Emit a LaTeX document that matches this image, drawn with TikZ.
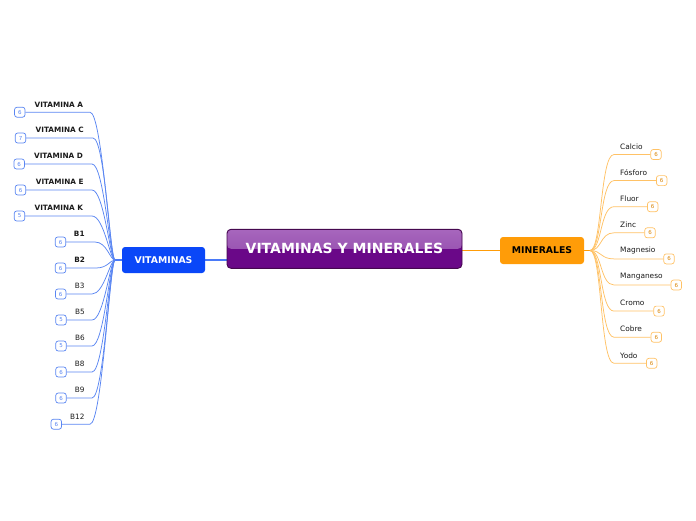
\documentclass[tikz,border=0pt]{standalone}
\usepackage{fontspec}
\setmainfont{DejaVu Sans}
\usetikzlibrary{calc}
\definecolor{vblue}{HTML}{0A47F8}
\definecolor{vconn}{HTML}{4A7AF8}
\definecolor{vline}{HTML}{5A86F2}
\definecolor{morange}{HTML}{FF9C08}
\definecolor{mline}{HTML}{FFC266}
\definecolor{ptop}{HTML}{A766BD}
\definecolor{pmid}{HTML}{8E45A8}
\definecolor{pbot}{HTML}{6A0888}
\definecolor{pborder}{HTML}{45084F}
\definecolor{labtext}{HTML}{1A1A1A}
\tikzset{
  vnum/.style={draw=vline, fill=white, rounded corners=2.5pt, minimum width=10.5pt, minimum height=10pt, inner sep=0pt, line width=0.7pt, text=vline, font=\fontsize{5.5}{5.5}\selectfont},
  mnum/.style={draw=mline, fill=white, rounded corners=2.5pt, minimum width=10.5pt, minimum height=10pt, inner sep=0pt, line width=0.7pt, text=morange!85!black, font=\fontsize{5.5}{5.5}\selectfont},
  vlabb/.style={inner sep=0pt, text=labtext, font=\fontsize{7.3}{8}\selectfont\bfseries},
  vlabn/.style={inner sep=0pt, text=labtext, font=\fontsize{7.3}{8}\selectfont},
  mlab/.style={inner sep=0pt, anchor=west, text=labtext, font=\fontsize{7.4}{8}\selectfont},
  vbranch/.style={draw=vline, line width=0.75pt},
  mbranch/.style={draw=mline, line width=0.75pt},
  vmain/.style={color=vconn, line width=1.3pt},
  mmain/.style={color=morange, line width=1.3pt},
}
\begin{document}
\begin{tikzpicture}[x=1pt,y=-1pt]
\path[use as bounding box] (0,0) rectangle (696,520);

\coordinate (vh) at (115,260);
\coordinate (mh) at (590,250.5);
\coordinate (cw) at (227.5,260);
\coordinate (ce) at (461.5,250.5);

\draw[vmain] (vh) -- (cw);
\draw[mmain] (ce) -- (mh);

% central node
\node[draw=pborder, line width=0.9pt, fill=pbot, rounded corners=4pt, minimum width=235pt, minimum height=39pt, inner sep=0pt,
  path picture={\fill[top color=ptop, bottom color=pmid] (path picture bounding box.north west) rectangle (path picture bounding box.east);},
  text=white, font=\fontsize{14}{16}\selectfont\bfseries] (c) at (344.5,248.8) {VITAMINAS Y MINERALES};

\node[fill=vblue, rounded corners=3pt, minimum width=83pt, minimum height=26pt, inner sep=0pt, text=white, font=\fontsize{9.3}{10}\selectfont\bfseries] (vit) at (163.5,260) {VITAMINAS};
\node[fill=morange, rounded corners=3pt, minimum width=84pt, minimum height=27pt, inner sep=0pt, text=black, font=\fontsize{9.3}{10}\selectfont\bfseries] (min) at (542,250.5) {MINERALES};

% vitamins: name/label/style/labx/boxx/liney/endx/num
\foreach \n/\t/\s/\lx/\bx/\ly/\ex/\num in {
  A/VITAMINA A/vlabb/58.8/19.8/112.2/90/6,
  C/VITAMINA C/vlabb/59.7/20.5/138/93/7,
  D/VITAMINA D/vlabb/58.5/19.2/164/92/6,
  E/VITAMINA E/vlabb/59.7/20.5/190/92/6,
  K/VITAMINA K/vlabb/58.8/19.5/216/92/5,
  B1/B1/vlabb/79.3/60.5/242/95/6,
  B2/B2/vlabb/79.7/60.5/268/96/6,
  B3/B3/vlabn/79.7/60.7/294/92/6,
  B5/B5/vlabn/80/61/320/92/5,
  B6/B6/vlabn/80/61/346/92/5,
  B8/B8/vlabn/79.8/61/372/92/6,
  B9/B9/vlabn/79.8/61/398/92/6,
  B12/B12/vlabn/77.3/56.3/424.2/90/6}{
  \coordinate (ve\n) at (\ex,\ly);
  \node[vnum] (vb\n) at (\bx,\ly) {\num};
  \draw[vbranch] (vh) .. controls ($(vh)+(-5,0)$) and ($(ve\n)+(12,0)$) .. (ve\n) -- (vb\n.east);
  \node[\s] (vl\n) at (\lx,\ly-7.8) {\t};
}

% minerals
\foreach \n/\t/\bx/\ly in {
  ca/Calcio/656/154.5,
  fo/Fósforo/661.7/180.6,
  fl/Fluor/652.7/206.7,
  zi/Zinc/650/232.8,
  mg/Magnesio/669/258.9,
  mn/Manganeso/676.3/285,
  cr/Cromo/659/311.1,
  cu/Cobre/656.3/337.2,
  yo/Yodo/651.7/363.3}{
  \coordinate (me\n) at (614,\ly);
  \node[mnum] (mb\n) at (\bx,\ly) {6};
  \draw[mbranch] (mh) .. controls ($(mh)+(12,0)$) and ($(me\n)+(-14,0)$) .. (me\n) -- (mb\n.west);
  \node[mlab] (ml\n) at (620,\ly-8) {\t};
}
\end{tikzpicture}
\end{document}
